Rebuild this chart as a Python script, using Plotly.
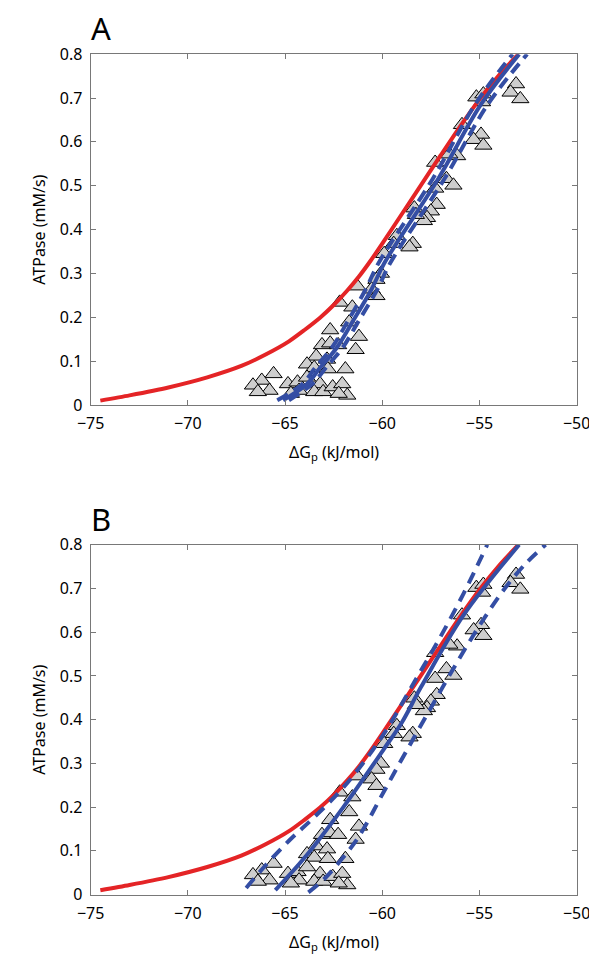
import plotly.graph_objects as go

# ---- data -------------------------------------------------------------
obs_dG = [-53.12, -53.4, -52.9, -55.16, -54.8, -54.87, -55.9, -54.92, -55.3, -54.8,
          -56.15, -56.55, -57.28, -56.7, -56.34, -57.28, -57.2, -57.5, -57.7, -57.86,
          -58.35, -58.27, -58.43, -59.25, -59.41, -59.9, -58.6,
          -60.07, -60.3, -60.55, -60.3,
          -61.29, -62.19, -61.54, -61.7, -62.68, -61.2, -63.1, -62.68, -62.27, -61.37,
          -63.4, -62.84, -63.87, -63.5, -62.8, -61.9, -65.59, -66.2, -66.65, -65.8,
          -66.4, -64.85, -64.36, -64.28, -64.7, -63.87, -63.2, -63.5, -63.04, -62.55,
          -62.06, -61.8, -62.24]
obs_atp = [0.732, 0.713, 0.698, 0.702, 0.709, 0.691, 0.639, 0.617, 0.605, 0.592,
           0.568, 0.572, 0.553, 0.516, 0.501, 0.494, 0.457, 0.442, 0.427, 0.42,
           0.449, 0.434, 0.368, 0.386, 0.368, 0.345, 0.36,
           0.30, 0.286, 0.264, 0.249,
           0.271, 0.234, 0.223, 0.189, 0.171, 0.156, 0.137, 0.141, 0.137, 0.126,
           0.111, 0.104, 0.093, 0.085, 0.082, 0.082, 0.071, 0.056, 0.045, 0.033,
           0.03, 0.048, 0.052, 0.033, 0.026, 0.063, 0.048, 0.03, 0.03, 0.041,
           0.048, 0.022, 0.026]

red_dG = [-74.5, -73.0, -71.0, -69.0, -67.25, -66.0, -64.8, -64.0, -63.2, -62.5, -61.8,
          -61.2, -60.6, -60.0, -59.0, -58.0, -57.0, -56.0, -55.0, -54.0, -53.0]
red_atp = [0.010, 0.022, 0.040, 0.063, 0.089, 0.115, 0.145, 0.171, 0.199, 0.228, 0.261,
           0.293, 0.329, 0.368, 0.435, 0.502, 0.569, 0.635, 0.697, 0.752, 0.80]

# panel A blue fits
a_fit_atp = [0.011, 0.048, 0.085, 0.13, 0.189, 0.264, 0.323, 0.516, 0.687, 0.80]
a_mid_dG = [-65.1, -63.87, -63.2, -62.35, -61.54, -60.55, -59.9, -57.12, -54.9, -52.96]
a_lo_dG = [-65.4, -64.1, -63.45, -62.6, -61.8, -60.85, -60.2, -57.4, -55.2, -53.3]
a_hi_dG = [-64.8, -63.6, -62.9, -62.05, -61.25, -60.25, -59.6, -56.8, -54.55, -52.55]

# panel B blue fits
b_mid_dG = [-65.5, -64.0, -62.0, -59.9, -59.0, -58.0, -55.82, -52.96]
b_mid_atp = [0.01, 0.084, 0.2, 0.334, 0.393, 0.475, 0.639, 0.80]
b_lo_dG = [-67.0, -66.1, -64.8, -63.5, -62.0, -60.5, -59.6, -58.3, -57.0, -55.8, -54.6]
b_lo_atp = [0.015, 0.062, 0.123, 0.177, 0.245, 0.33, 0.39, 0.49, 0.59, 0.69, 0.80]
b_hi_dG = [-63.8, -63.0, -62.03, -61.2, -59.9, -58.8, -57.6, -56.3, -55.0, -53.7, -52.6, -51.6]
b_hi_atp = [0.005, 0.035, 0.084, 0.133, 0.237, 0.325, 0.419, 0.52, 0.615, 0.70, 0.758, 0.80]

x_ticks = [-75, -70, -65, -60, -55, -50]
y_ticks = [0, 0.1, 0.2, 0.3, 0.4, 0.5, 0.6, 0.7, 0.8]
y_ticktext = ["0", "0.1", "0.2", "0.3", "0.4", "0.5", "0.6", "0.7", "0.8"]
x_ticktext = ["\u221275", "\u221270", "\u221265", "\u221260", "\u221255", "\u221250"]

# ---- styling ----------------------------------------------------------
RED = "rgb(228,36,38)"
BLUE = "rgb(52,78,164)"
FONT = "Noto Sans"
W, H = 597, 965
xdom = [72 / W, 582 / W]
ydomA = [1 - 395 / H, 1 - 36 / H]
ydomB = [1 - 896 / H, 1 - 538 / H]

fig = go.Figure()


def add_panel(xa, ya, curves):
    fig.add_trace(go.Scatter(
        x=obs_dG, y=obs_atp, mode="markers", xaxis=xa, yaxis=ya,
        marker=dict(symbol="triangle-up", size=15, color="rgb(206,206,206)",
                    line=dict(color="black", width=1)),
        showlegend=False, hoverinfo="skip"))
    fig.add_trace(go.Scatter(
        x=red_dG, y=red_atp, mode="lines", xaxis=xa, yaxis=ya,
        line=dict(color=RED, width=4, shape="spline", smoothing=0.7),
        showlegend=False, hoverinfo="skip"))
    for xs, ys, dash in curves:
        fig.add_trace(go.Scatter(
            x=xs, y=ys, mode="lines", xaxis=xa, yaxis=ya,
            line=dict(color=BLUE, width=4, dash=dash, shape="spline", smoothing=1.0),
            showlegend=False, hoverinfo="skip"))


add_panel("x", "y", [(a_lo_dG, a_fit_atp, "12px,7px"),
                     (a_hi_dG, a_fit_atp, "12px,7px"),
                     (a_mid_dG, a_fit_atp, "solid")])
add_panel("x2", "y2", [(b_lo_dG, b_lo_atp, "12px,8px"),
                       (b_hi_dG, b_hi_atp, "12px,8px"),
                       (b_mid_dG, b_mid_atp, "solid")])

axis_common = dict(showgrid=False, zeroline=False, showline=True, linecolor="rgb(120,120,120)",
                   linewidth=1, mirror="ticks", ticks="inside", ticklen=5, tickwidth=1,
                   tickcolor="rgb(120,120,120)", ticklabelstandoff=4,
                   tickfont=dict(family=FONT, size=16, color="black"))

xaxis_cfg = dict(range=[-75, -50], tickvals=x_ticks, ticktext=x_ticktext, domain=xdom, **axis_common)
yaxis_cfg = dict(range=[0, 0.8], tickvals=y_ticks, ticktext=y_ticktext, **axis_common)

fig.update_layout(
    width=W, height=H, margin=dict(l=0, r=0, t=0, b=0),
    paper_bgcolor="white", plot_bgcolor="white",
    font=dict(family=FONT, size=16, color="black"),
    xaxis=dict(anchor="y", **xaxis_cfg),
    yaxis=dict(anchor="x", domain=ydomA, **yaxis_cfg),
    xaxis2=dict(anchor="y2", **xaxis_cfg),
    yaxis2=dict(anchor="x2", domain=ydomB, **yaxis_cfg),
)

annots = []
for label, top, bot in [("A", 36, 395), ("B", 538, 896)]:
    annots.append(dict(text=label, x=70 / W, y=1 - (top - 3) / H, xref="paper", yref="paper",
                       xanchor="left", yanchor="bottom", showarrow=False,
                       font=dict(family=FONT, size=31, color="black")))
    annots.append(dict(text="ATPase (mM/s)", x=17 / W, y=1 - (top + bot) / 2 / H,
                       xref="paper", yref="paper", textangle=-90, showarrow=False,
                       xanchor="center", yanchor="middle",
                       font=dict(family=FONT, size=16, color="black")))
    annots.append(dict(text="\u0394G<sub>p</sub> (kJ/mol)", x=(72 + 582) / 2 / W,
                       y=1 - (bot + 49) / H, xref="paper", yref="paper", showarrow=False,
                       xanchor="center", yanchor="middle",
                       font=dict(family=FONT, size=16, color="black")))
fig.update_layout(annotations=annots)

fig.write_html("out.html")
